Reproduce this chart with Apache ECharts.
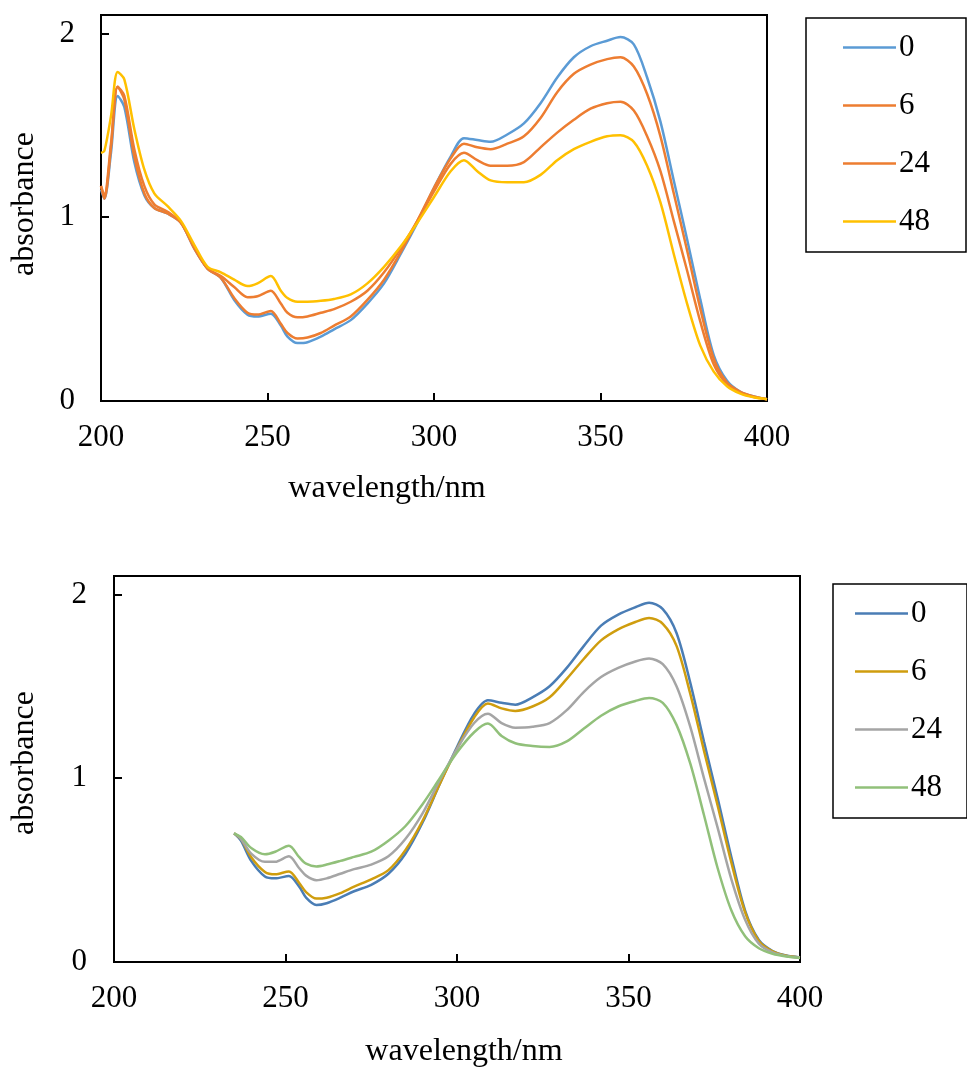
<!DOCTYPE html>
<html>
<head>
<meta charset="utf-8">
<script src="https://cdn.jsdelivr.net/npm/echarts@6/dist/echarts.min.js"></script>
<style>
  html, body { margin: 0; padding: 0; background: #fff; }
  .panel { width: 967px; height: 535px; }
</style>
</head>
<body>
<div id="chartTop" class="panel"></div>
<div id="chartBottom" class="panel"></div>
<script>
// Wavelength samples (nm) and absorbance readings for each time point (h)
const wavelengthsTop = [200, 201, 203, 205, 207, 210, 213, 216, 220, 224, 228, 232, 236, 240, 244, 247, 251, 254, 256, 259, 262, 266, 270, 275, 280, 285, 290, 295, 300, 305, 309, 313, 317, 322, 327, 332, 337, 342, 347, 352, 356, 360, 364, 368, 372, 376, 380, 384, 388, 392, 396, 400];
const top0  = [1.15, 1.10, 1.35, 1.66, 1.60, 1.30, 1.12, 1.05, 1.02, 0.97, 0.83, 0.72, 0.67, 0.55, 0.47, 0.46, 0.475, 0.41, 0.35, 0.315, 0.32, 0.35, 0.39, 0.44, 0.53, 0.64, 0.80, 0.97, 1.16, 1.33, 1.43, 1.42, 1.41, 1.45, 1.51, 1.62, 1.76, 1.87, 1.93, 1.96, 1.98, 1.94, 1.76, 1.52, 1.20, 0.88, 0.55, 0.25, 0.11, 0.05, 0.025, 0.01];
const top6  = [1.17, 1.10, 1.38, 1.71, 1.64, 1.33, 1.13, 1.05, 1.02, 0.97, 0.83, 0.72, 0.67, 0.56, 0.48, 0.47, 0.49, 0.42, 0.37, 0.34, 0.345, 0.37, 0.41, 0.46, 0.55, 0.66, 0.81, 0.98, 1.16, 1.32, 1.40, 1.38, 1.37, 1.40, 1.44, 1.54, 1.68, 1.78, 1.83, 1.86, 1.87, 1.82, 1.67, 1.44, 1.13, 0.82, 0.50, 0.23, 0.10, 0.05, 0.025, 0.01];
const top24 = [1.17, 1.12, 1.40, 1.71, 1.66, 1.37, 1.17, 1.07, 1.03, 0.97, 0.84, 0.72, 0.68, 0.62, 0.565, 0.57, 0.60, 0.53, 0.48, 0.455, 0.46, 0.48, 0.50, 0.54, 0.60, 0.70, 0.83, 0.98, 1.14, 1.29, 1.35, 1.31, 1.28, 1.28, 1.30, 1.38, 1.46, 1.53, 1.59, 1.62, 1.628, 1.58, 1.44, 1.25, 0.98, 0.71, 0.43, 0.20, 0.09, 0.045, 0.022, 0.01];
const top48 = [1.35, 1.36, 1.55, 1.79, 1.75, 1.48, 1.26, 1.13, 1.06, 0.98, 0.85, 0.73, 0.70, 0.66, 0.625, 0.64, 0.68, 0.60, 0.56, 0.54, 0.54, 0.545, 0.555, 0.58, 0.64, 0.73, 0.84, 0.97, 1.11, 1.25, 1.31, 1.25, 1.20, 1.19, 1.19, 1.23, 1.31, 1.37, 1.41, 1.44, 1.446, 1.41, 1.28, 1.08, 0.80, 0.53, 0.30, 0.16, 0.08, 0.04, 0.02, 0.01];

const wavelengthsBottom = [235, 237, 240, 244, 247, 251, 254, 256, 259, 262, 266, 270, 275, 280, 285, 290, 295, 300, 305, 309, 313, 317, 322, 327, 332, 337, 342, 347, 352, 356, 360, 364, 368, 372, 376, 380, 384, 388, 392, 396, 400];
const bottom0  = [0.70, 0.66, 0.55, 0.465, 0.455, 0.468, 0.41, 0.35, 0.31, 0.32, 0.35, 0.385, 0.42, 0.48, 0.59, 0.76, 0.97, 1.17, 1.35, 1.424, 1.41, 1.40, 1.44, 1.50, 1.60, 1.72, 1.83, 1.89, 1.93, 1.955, 1.92, 1.79, 1.52, 1.20, 0.89, 0.57, 0.28, 0.12, 0.06, 0.035, 0.025];
const bottom6  = [0.70, 0.67, 0.57, 0.49, 0.477, 0.493, 0.43, 0.38, 0.345, 0.35, 0.375, 0.41, 0.45, 0.50, 0.61, 0.77, 0.97, 1.16, 1.33, 1.406, 1.38, 1.366, 1.39, 1.44, 1.54, 1.65, 1.75, 1.81, 1.85, 1.872, 1.84, 1.72, 1.46, 1.15, 0.85, 0.54, 0.27, 0.115, 0.058, 0.034, 0.025];
const bottom24 = [0.70, 0.67, 0.59, 0.545, 0.545, 0.575, 0.51, 0.47, 0.445, 0.455, 0.48, 0.505, 0.53, 0.575, 0.67, 0.81, 0.99, 1.16, 1.30, 1.351, 1.30, 1.275, 1.28, 1.30, 1.37, 1.47, 1.55, 1.60, 1.635, 1.651, 1.62, 1.50, 1.28, 1.00, 0.73, 0.45, 0.23, 0.10, 0.052, 0.032, 0.024];
const bottom48 = [0.70, 0.68, 0.62, 0.586, 0.60, 0.633, 0.57, 0.535, 0.52, 0.53, 0.55, 0.572, 0.60, 0.66, 0.74, 0.86, 1.00, 1.14, 1.25, 1.297, 1.23, 1.19, 1.175, 1.17, 1.20, 1.27, 1.34, 1.39, 1.42, 1.436, 1.41, 1.29, 1.08, 0.80, 0.51, 0.28, 0.14, 0.075, 0.045, 0.03, 0.022];

const seriesNames = ['0', '6', '24', '48'];
const xTicks = { min: 200, max: 400, interval: 50 };
const yTicks = { min: 0, max: 2.1, interval: 1 };

const FONT = '"Liberation Serif", "Times New Roman", serif';

function pairs(xs, ys) { return xs.map((x, i) => [x, ys[i]]); }

function buildOption(cfg) {
  const series = cfg.values.map((vals, i) => ({
    name: seriesNames[i],
    type: 'line',
    data: pairs(cfg.wavelengths, vals),
    smooth: 0.3,
    symbol: 'none',
    lineStyle: { color: cfg.colors[i], width: 2.5 },
    itemStyle: { color: cfg.colors[i] },
    z: 2 + i
  }));
  return {
    animation: false,
    grid: {
      left: cfg.grid.left, top: cfg.grid.top, width: cfg.grid.width, height: cfg.grid.height,
      show: true, borderColor: '#000', borderWidth: 2, backgroundColor: 'transparent'
    },
    xAxis: {
      type: 'value', min: xTicks.min, max: xTicks.max, interval: xTicks.interval,
      axisLine: { show: true, onZero: false, lineStyle: { color: '#000', width: 2 } },
      axisTick: { show: true, inside: true, length: 8, lineStyle: { color: '#000', width: 2 } },
      axisLabel: { color: '#000', fontFamily: FONT, fontSize: 31, margin: 21 },
      splitLine: { show: false }
    },
    yAxis: {
      type: 'value', min: yTicks.min, max: yTicks.max, interval: yTicks.interval,
      axisLine: { show: true, lineStyle: { color: '#000', width: 2 } },
      axisTick: { show: true, inside: true, length: 8, lineStyle: { color: '#000', width: 2 } },
      axisLabel: {
        color: '#000', fontFamily: FONT, fontSize: 31, margin: cfg.yLabelMargin,
        showMaxLabel: false,
        formatter: v => (Number.isInteger(v) ? String(v) : '')
      },
      splitLine: { show: false }
    },
    legend: {
      data: seriesNames.map(n => ({ name: n, icon: 'rect' })),
      orient: 'vertical',
      left: cfg.legend.left, top: cfg.legend.top,
      padding: cfg.legend.padding,
      itemWidth: 53, itemHeight: 2.5, itemGap: 27,
      itemStyle: { borderWidth: 0 },
      textStyle: { color: '#000', fontFamily: FONT, fontSize: 31, padding: [0, 0, 0, -2] },
      borderColor: '#000', borderWidth: 1.5,
      selectedMode: false
    },
    graphic: [
      {
        type: 'text', x: cfg.xName.x, y: cfg.xName.y,
        style: { text: 'wavelength/nm', font: '32px ' + FONT, fill: '#000', align: 'center', verticalAlign: 'middle' }
      },
      {
        type: 'text', x: cfg.yName.x, y: cfg.yName.y, rotation: Math.PI / 2,
        style: { text: 'absorbance', font: '32px ' + FONT, fill: '#000', align: 'center', verticalAlign: 'middle' }
      }
    ],
    series
  };
}

const topChart = echarts.init(document.getElementById('chartTop'), null, { renderer: 'canvas' });
topChart.setOption(buildOption({
  wavelengths: wavelengthsTop,
  values: [top0, top6, top24, top48],
  colors: ['#5B9BD5', '#ED7D31', '#ED7D31', '#FFC000'],
  grid: { left: 101, top: 15, width: 666, height: 386 },
  yLabelMargin: 26,
  legend: { left: 806, top: 18, padding: [14, 36, 15, 37] },
  xName: { x: 387, y: 489 },
  yName: { x: 25, y: 204 }
}));

const bottomChart = echarts.init(document.getElementById('chartBottom'), null, { renderer: 'canvas' });
bottomChart.setOption(buildOption({
  wavelengths: wavelengthsBottom,
  values: [bottom0, bottom6, bottom24, bottom48],
  colors: ['#4A7DB5', '#CF9D0E', '#A5A5A5', '#91C07A'],
  grid: { left: 114, top: 41, width: 686, height: 386 },
  yLabelMargin: 27,
  legend: { left: 833, top: 49, padding: [14, 25, 15, 22] },
  xName: { x: 464, y: 517 },
  yName: { x: 25, y: 228 }
}));
</script>
</body>
</html>
